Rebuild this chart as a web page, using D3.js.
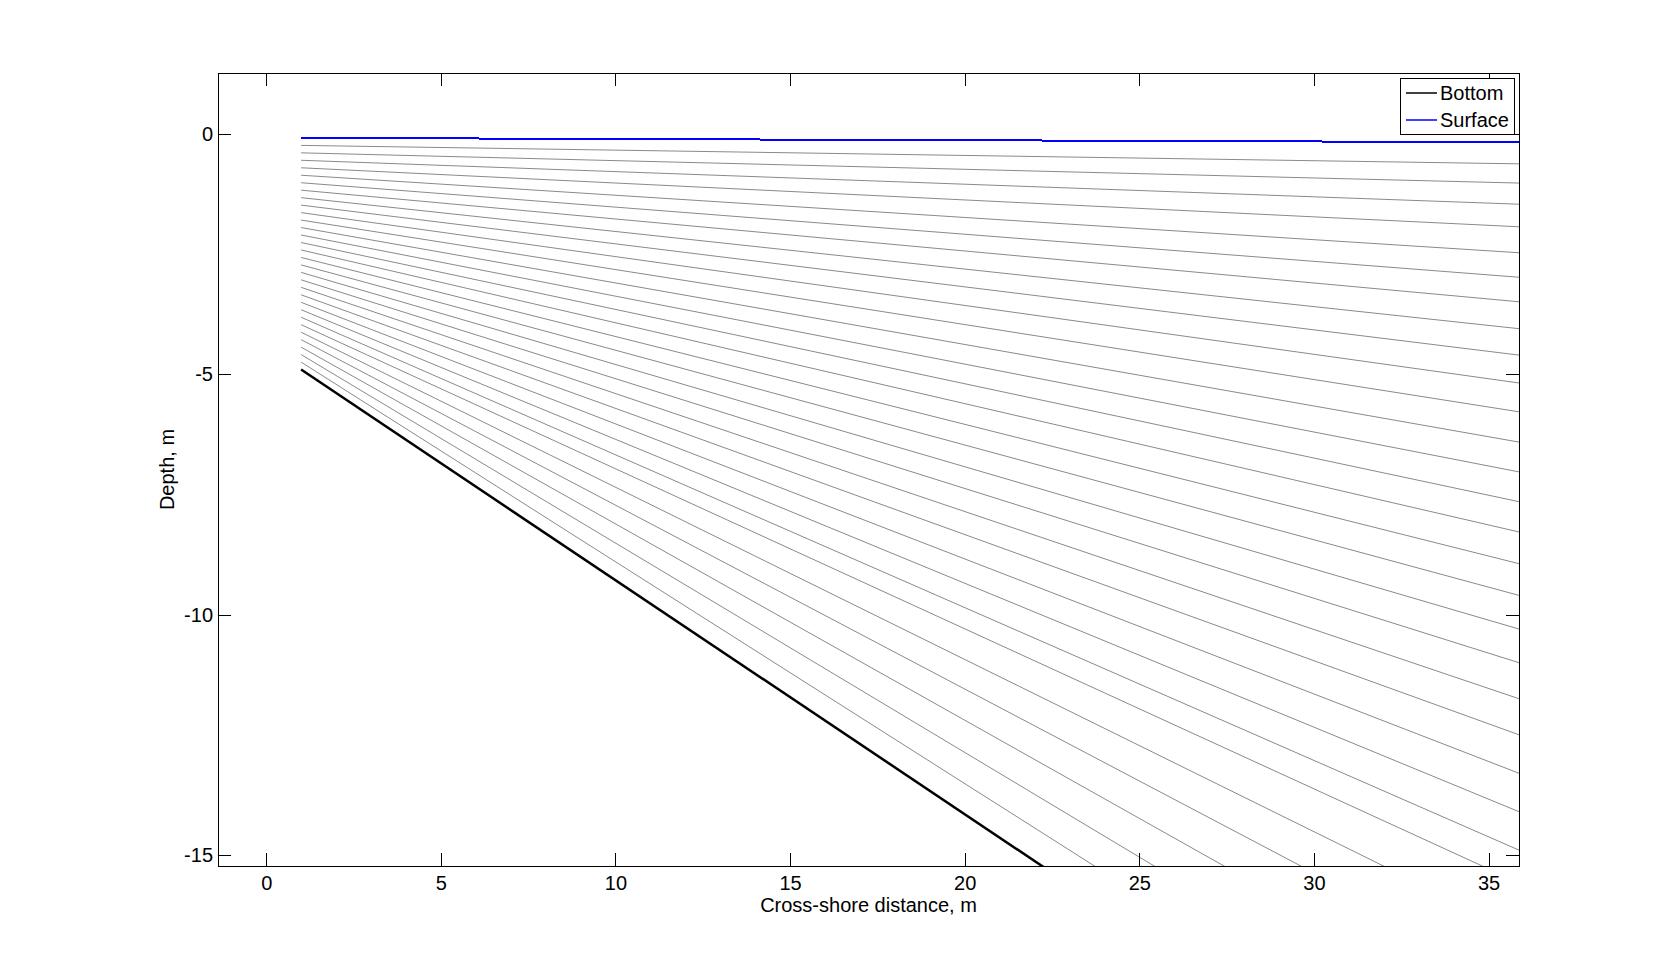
<!DOCTYPE html>
<html><head><meta charset="utf-8">
<script src="https://cdn.jsdelivr.net/npm/d3@7"></script>
<style>body{margin:0;background:#fff} svg{display:block} text{font-family:"Liberation Sans",Arial,sans-serif}</style>
</head><body><svg id="c" width="1678" height="973"></svg>
<script>
// ---- data ----
const xTicks = [0, 5, 10, 15, 20, 25, 30, 35];
const yTicks = [0, -5, -10, -15];
const xDomain = [-1.38, 35.87];
const yDomain = [-15.23, 1.27];
const bottomX = [1, 35.87];
const bottomZ = [-4.9, -21.88];
const surfaceX = [1, 35.87];
const surfaceZ = [-0.08, -0.17];
const layerX = [1, 35.87];
const layerLeft = [-0.236, -0.391, -0.546, -0.702, -0.857, -1.013, -1.168, -1.324, -1.479, -1.635,
  -1.790, -1.946, -2.101, -2.257, -2.412, -2.568, -2.723, -2.879, -3.034, -3.190,
  -3.345, -3.501, -3.656, -3.812, -3.967, -4.123, -4.278, -4.434, -4.589, -4.745];
const layerRight = [-0.62, -1.02, -1.46, -1.93, -2.47, -2.98, -3.49, -4.05, -4.60, -5.18,
  -5.78, -6.41, -7.03, -7.65, -8.28, -8.94, -9.60, -10.30, -11.00, -11.75,
  -12.50, -13.30, -14.10, -14.90, -15.58, -16.62, -17.62, -18.68, -19.78, -20.84];
const legendLabels = ["Bottom", "Surface"];
const legendColors = ["#000000", "#0000ff"];

// ---- layout ----
const W = 1678, H = 973;
const L = 218, R = 1519, T = 73, B = 866;
const svg = d3.select("#c");
const x = d3.scaleLinear().domain(xDomain).range([L, R]);
const y = d3.scaleLinear().domain(yDomain).range([B, T]);

svg.append("defs").append("clipPath").attr("id", "clip")
  .append("rect").attr("x", L).attr("y", T).attr("width", R - L).attr("height", B - T);

const line = d3.line().x(d => x(d[0])).y(d => y(d[1]));
const g = svg.append("g").attr("clip-path", "url(#clip)");

layerLeft.forEach((zl, i) => {
  const pts = [[layerX[0], zl], [layerX[1], layerRight[i]]];
  g.append("path").attr("d", line(pts)).attr("fill", "none")
    .attr("stroke", "#8a8a8a").attr("stroke-width", 1);
});
g.append("path").attr("d", line(bottomX.map((v, i) => [v, bottomZ[i]])))
  .attr("fill", "none").attr("stroke", "#000").attr("stroke-width", 2.5);
g.append("path").attr("d", line(surfaceX.map((v, i) => [v, surfaceZ[i]])))
  .attr("fill", "none").attr("stroke", "#0000ff").attr("stroke-width", 2)
  .attr("shape-rendering", "crispEdges");

// ---- axes ----
const tl = 13;
const fs = 20;
const fmt = d => String(d);
svg.append("rect").attr("x", L + 0.5).attr("y", T + 0.5).attr("width", R - L).attr("height", B - T)
  .attr("fill", "none").attr("stroke", "#000").attr("stroke-width", 1);

const axB = d3.axisBottom(x).tickValues(xTicks).tickSize(0).tickPadding(10).tickFormat(fmt);
const gx = svg.append("g").attr("transform", `translate(0,${B})`).call(axB);
gx.select(".domain").remove();
gx.selectAll("text").attr("font-size", fs).attr("fill", "#000").attr("font-family", '"Liberation Sans",Arial,sans-serif');

const axL = d3.axisLeft(y).tickValues(yTicks).tickSize(0).tickPadding(5).tickFormat(fmt);
const gy = svg.append("g").attr("transform", `translate(${L},0)`).call(axL);
gy.select(".domain").remove();
gy.selectAll("text").attr("font-size", fs).attr("fill", "#000").attr("font-family", '"Liberation Sans",Arial,sans-serif');

xTicks.forEach(t => {
  const px = Math.round(x(t)) + 0.5;
  svg.append("line").attr("x1", px).attr("x2", px).attr("y1", B).attr("y2", B - tl).attr("stroke", "#000");
  svg.append("line").attr("x1", px).attr("x2", px).attr("y1", T).attr("y2", T + tl).attr("stroke", "#000");
});
yTicks.forEach(t => {
  const py = Math.round(y(t)) + 0.5;
  svg.append("line").attr("x1", L).attr("x2", L + tl).attr("y1", py).attr("y2", py).attr("stroke", "#000");
  svg.append("line").attr("x1", R).attr("x2", R - tl).attr("y1", py).attr("y2", py).attr("stroke", "#000");
});

svg.append("text").attr("x", (L + R) / 2).attr("y", 912).attr("text-anchor", "middle")
  .attr("font-size", fs).text("Cross-shore distance, m");
svg.append("text").attr("transform", `translate(174,${(T + B) / 2}) rotate(-90)`).attr("text-anchor", "middle")
  .attr("font-size", fs).text("Depth, m");

// ---- legend ----
const lg = svg.append("g");
lg.append("rect").attr("x", 1400.5).attr("y", 78.5).attr("width", 114).attr("height", 56)
  .attr("fill", "#fff").attr("stroke", "#000");
legendLabels.forEach((lab, i) => {
  const ly = 93 + i * 27;
  lg.append("line").attr("x1", 1406).attr("x2", 1437).attr("y1", ly).attr("y2", ly)
    .attr("stroke", legendColors[i]).attr("stroke-width", 1.5);
  lg.append("text").attr("x", 1440).attr("y", ly + 7).attr("font-size", fs).text(lab);
});
</script></body></html>
